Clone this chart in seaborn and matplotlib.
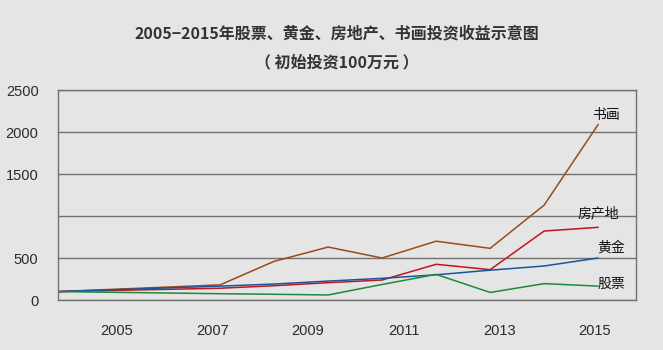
import matplotlib
matplotlib.use("Agg")
import matplotlib.pyplot as plt
import seaborn as sns
import pandas as pd

# ---- data ----
years = [2005, 2008, 2009, 2010, 2011, 2012, 2013, 2014, 2015]
shuhua = [100, 180, 460, 630, 500, 700, 615, 1130, 2090]     # 书画
fangdichan = [100, 140, 170, 206, 238, 425, 361, 821, 865]   # 房地产
huangjin = [100, 165, 190, 225, 258, 300, 355, 405, 500]     # 黄金
gupiao = [100, 75, 68, 60, 185, 305, 90, 195, 165]           # 股票
series_names = ["书画", "房地产", "黄金", "股票"]
end_labels = ["书画", "房产地", "黄金", "股票"]
label_years = [2005, 2007, 2009, 2011, 2013, 2015]
y_ticks = [0, 500, 1000, 1500, 2000, 2500]
y_tick_labels = ["0", "500", "", "1500", "2000", "2500"]
title_line1 = "2005−2015年股票、黄金、房地产、书画投资收益示意图"
title_line2 = "（ 初始投资100万元 ）"

df = pd.DataFrame({
    "年份": years * 4,
    "收益": shuhua + fangdichan + huangjin + gupiao,
    "类别": sum([[n] * len(years) for n in series_names], []),
})

colors = {"书画": "#9a4a1e", "房地产": "#c0161c", "黄金": "#17569a", "股票": "#1d8a3a"}
bg = "#e5e5e5"

sns.set_theme(style="white")
plt.rcParams["font.family"] = ["Noto Sans CJK SC", "DejaVu Sans"]

fig = plt.figure(figsize=(6.63, 3.5), dpi=100, facecolor=bg)
ax = fig.add_axes([58 / 663, 50 / 350, 578 / 663, 210 / 350])
ax.set_facecolor(bg)

sns.lineplot(data=df, x="年份", y="收益", hue="类别", palette=colors,
             hue_order=series_names, linewidth=1.1, legend=False, ax=ax)

ax.set_xlim(2005, 2015.7)
ax.set_ylim(0, 2500)
ax.set_yticks(y_ticks)
ax.set_yticklabels(y_tick_labels, family=["Liberation Sans"], fontsize=10.5, color="#2a2a2a")
ax.tick_params(axis="y", length=0, pad=14)
ax.set_xticks([])
ax.set_xlabel("")
ax.set_ylabel("")
for y in y_ticks:
    ax.axhline(y, color="#727272", lw=1.0, zorder=0)
for s in ax.spines.values():
    s.set_color("#727272")
    s.set_linewidth(1.0)

# category labels axis (labels sit at their own spacing in the reference)
ax2 = ax.twiny()
ax2.set_xlim(2003.77, 2015.86)
ax2.xaxis.set_ticks_position("bottom")
ax2.set_xticks(label_years)
ax2.set_xticklabels([str(y) for y in label_years], family=["Liberation Sans"],
                    fontsize=10.5, color="#2a2a2a")
ax2.tick_params(axis="x", length=0, pad=17)
for s in ax2.spines.values():
    s.set_visible(False)

# end labels
label_pos = {"书画": (2014.89, 2202), "房产地": (2014.61, 1036),
             "黄金": (2014.98, 619), "股票": (2014.98, 190)}
for name in end_labels:
    x, y = label_pos[name]
    ax.text(x, y, name, fontsize=10, color="#111111", ha="left", va="center")

fig.text(337 / 663, 1 - 33 / 350, title_line1, ha="center", va="center",
         fontsize=11.5, color="#333333", fontweight="bold")
fig.text(337 / 663, 1 - 62 / 350, title_line2, ha="center", va="center",
         fontsize=11.5, color="#333333", fontweight="bold")

fig.savefig("out.png", dpi=100, facecolor=bg)
